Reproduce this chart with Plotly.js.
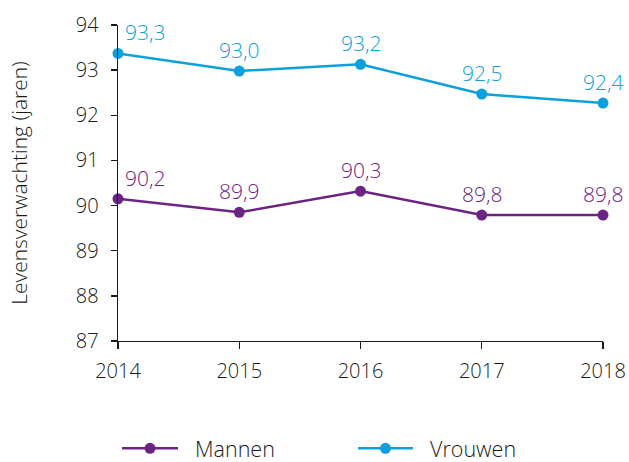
<!DOCTYPE html>
<html>
<head>
<meta charset="utf-8">
<script src="https://cdn.plot.ly/plotly-3.0.1.min.js"></script>
<style>html,body{margin:0;padding:0;background:#fff;}#chart{width:629px;height:462px;}</style>
</head>
<body>
<div id="chart"></div>
<script>
const years = [2014, 2015, 2016, 2017, 2018];
const mannen = [90.15, 89.85, 90.32, 89.79, 89.79];
const vrouwen = [93.37, 92.98, 93.13, 92.47, 92.27];
const mannenLabels = ["90,2", "89,9", "90,3", "89,8", "89,8"];
const vrouwenLabels = ["93,3", "93,0", "93,2", "92,5", "92,4"];
const yTicks = [87, 88, 89, 90, 91, 92, 93, 94];
const seriesNames = ["Mannen", "Vrouwen"];

const purple = "#6B2482";
const blue = "#0AA0DC";
const FONT = "'Open Sans', sans-serif";
const W = 300;
const INK = "#1a1a1a";

const M = {l: 118, r: 26, t: 25, b: 120.5};
const PW = 629 - M.l - M.r, PH = 462 - M.t - M.b;
const px2x = p => (p - M.l) / PW;
const px2y = p => (462 - M.b - p) / PH;

const series = [
  {name: seriesNames[0], y: mannen, labels: mannenLabels, color: purple},
  {name: seriesNames[1], y: vrouwen, labels: vrouwenLabels, color: blue}
];

const traces = series.map(s => ({
  x: years, y: s.y, name: s.name, mode: "lines+markers",
  line: {color: s.color, width: 2.5},
  marker: {color: s.color, size: 11},
  cliponaxis: false, hoverinfo: "skip", showlegend: false
}));

const annotations = [];
series.forEach(s => {
  years.forEach((yr, i) => {
    annotations.push({
      x: yr, y: s.y[i], xref: "x", yref: "y", text: s.labels[i], showarrow: false,
      xanchor: i === 0 ? "left" : "center", xshift: i === 0 ? 5 : 0,
      yanchor: "middle", yshift: 21,
      font: {family: FONT, size: 21, color: s.color, weight: W}
    });
  });
});

// custom legend (longer line symbol as in the reference)
const legendItems = [
  {lineFrom: 122, lineTo: 178, textAt: 193},
  {lineFrom: 358, lineTo: 413, textAt: 428}
];
const legendY = 449;
const shapes = [];
series.forEach((s, k) => {
  const it = legendItems[k];
  shapes.push({type: "line", xref: "paper", yref: "paper",
    x0: px2x(it.lineFrom), x1: px2x(it.lineTo), y0: px2y(legendY), y1: px2y(legendY),
    line: {color: s.color, width: 2.5}});
  const cx = px2x((it.lineFrom + it.lineTo) / 2);
  shapes.push({type: "circle", xref: "paper", yref: "paper",
    xsizemode: "pixel", ysizemode: "pixel", xanchor: cx, yanchor: px2y(legendY),
    x0: -5.5, x1: 5.5, y0: -5.5, y1: 5.5,
    fillcolor: s.color, line: {width: 0}});
  annotations.push({xref: "paper", yref: "paper", x: px2x(it.textAt), y: px2y(legendY),
    xanchor: "left", yanchor: "middle", text: s.name, showarrow: false,
    font: {family: FONT, size: 21.5, color: INK, weight: W}});
});

const layout = {
  width: 629, height: 462,
  margin: {l: M.l, r: M.r, t: M.t, b: M.b, autoexpand: false},
  paper_bgcolor: "#fff", plot_bgcolor: "#fff",
  font: {family: FONT, size: 20, color: INK, weight: W},
  showlegend: false,
  annotations: annotations,
  shapes: shapes,
  xaxis: {
    range: [2014, 2018], tickvals: years, ticktext: years.map(String),
    showline: true, linecolor: INK, linewidth: 1.3,
    ticks: "outside", ticklen: 7, tickcolor: INK, tickwidth: 1.3,
    showgrid: false, zeroline: false, fixedrange: true, ticklabelstandoff: 5
  },
  yaxis: {
    range: [87, 94], tickvals: yTicks, ticktext: yTicks.map(String),
    showline: true, linecolor: INK, linewidth: 1.3,
    ticks: "outside", ticklen: 6, tickcolor: INK, tickwidth: 1.3,
    showgrid: false, zeroline: false, fixedrange: true, ticklabelstandoff: 8,
    title: {text: "Levensverwachting (jaren)", font: {size: 21, family: FONT, weight: W, color: INK}, standoff: 42}
  }
};

Plotly.newPlot("chart", traces, layout, {displayModeBar: false, staticPlot: true});
</script>
</body>
</html>
